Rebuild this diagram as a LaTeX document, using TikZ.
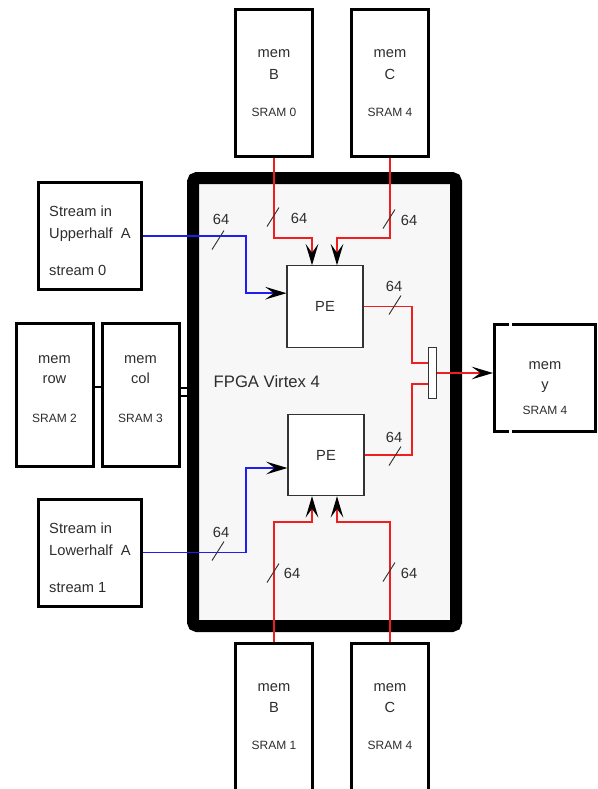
\documentclass[tikz,border=0pt]{standalone}
\usepackage{fontspec}
\setmainfont{Liberation Sans}
\usetikzlibrary{shapes,arrows.meta,positioning}
\definecolor{fpgafill}{RGB}{247,247,247}
\definecolor{txtgray}{RGB}{45,45,45}
\definecolor{busred}{RGB}{240,30,30}
\definecolor{busblue}{RGB}{30,30,240}

\begin{document}
\begin{tikzpicture}[x=0.75pt, y=-0.75pt,
    >={Stealth[length=16pt, width=9.5pt, inset=6.5pt, color=black]},
    membox/.style={rectangle, draw, line width=2.25pt, minimum width=57.75pt, minimum height=110.25pt, align=center, text=txtgray, font=\fontsize{11}{16.5}\selectfont},
    strbox/.style={rectangle, draw, line width=2.25pt, minimum width=77.25pt, minimum height=80.25pt, align=left, text=txtgray, font=\fontsize{11}{16.5}\selectfont},
    pebox/.style={rectangle, draw=black!80, line width=0.8pt, fill=white, minimum width=57pt, minimum height=61pt, text=txtgray, font=\fontsize{11}{13}\selectfont},
    redbus/.style={busred, line width=1.2pt},
    bluebus/.style={busblue, line width=1.2pt},
    slash/.style={black!80, line width=0.7pt},
    lbl/.style={text=txtgray, font=\fontsize{11}{13}\selectfont, inner sep=1pt}]

    \clip (0,0) rectangle (598,789);

    % FPGA
    \node[rectangle, draw, line width=9pt, rounded corners=3pt, fill=fpgafill, minimum width=197.25pt, minimum height=336pt] (fpga) at (324.5,402) {};
    \node[anchor=west, text=txtgray, font=\fontsize{12.5}{15}\selectfont] (fpgalbl) at (209,382) {FPGA Virtex 4};

    % PE
    \node[pebox] (pe1) at (325,306.5) {PE};
    \node[pebox] (pe2) at (326,455) {PE};
    \node[rectangle, draw=black!80, line width=0.8pt, fill=white, minimum width=6pt, minimum height=38pt, inner sep=0pt] (mux) at (432.5,373) {};

    % Memorias
    \node[membox] (memB0) at (274,83) {mem\\B\\[11.5pt]{\small SRAM 0}};
    \node[membox] (memC0) at (390,83) {mem\\C\\[11.5pt]{\small SRAM 4}};
    \node[membox] (memB1) at (274,717) {mem\\[-1pt]B\\[11.5pt]{\small SRAM 1}};
    \node[membox] (memC1) at (390,717) {mem\\[-1pt]C\\[11.5pt]{\small SRAM 4}};
    \node[membox, minimum height=107.25pt] (memrow) at (54.5,395) {mem\\[-2pt]row\\[13pt]{\small SRAM 2}\\[-8pt]{}};
    \node[membox, minimum height=107.25pt, right=4.5pt of memrow] (memcol) {mem\\[-2pt]col\\[13pt]{\small SRAM 3}\\[-8pt]{}};
    \node[membox, minimum width=75.75pt, minimum height=80.25pt] (memy) at (545,378) {{}\\[5pt]mem\\[-1.5pt]y\\[2.5pt]{\small SRAM 4}};
    \fill[white] (509,320) rectangle (511.5,327);
    \fill[white] (509,429) rectangle (511.5,436);

    % Streams
    \node[strbox] (strU) at (90,236) {{}\\[-1pt]Stream in\\Upperhalf\ \ A\\[11.5pt]stream 0};
    \node[strbox] (strL) at (90,552.5) {{}\\[-1pt]Stream in\\Lowerhalf\ \ A\\[11.5pt]stream 1};

    % Enlaces
    \draw[line width=1.5pt] (memrow.east |- 0,387) -- (memcol.west |- 0,387);
    \draw[line width=1pt] (memcol.east |- 0,388) -- (fpga.west |- 0,388);
    \draw[line width=1pt] (memcol.east |- 0,396) -- (fpga.west |- 0,396);

    % Buses
    \draw[redbus, ->] (memB0.south) |- (312,238) -- ([xshift=-9.75pt]pe1.north);
    \draw[redbus, ->] (memC0.south) |- (337,238) -- ([xshift=9pt]pe1.north);
    \draw[redbus, ->] (memB1.north) |- (312,522) -- ([xshift=-10.5pt]pe2.south);
    \draw[redbus, ->] (memC1.north) |- (337,522) -- ([xshift=8.25pt]pe2.south);
    \draw[bluebus, ->] (strU.east) -| (246,265) |- ([yshift=10pt]pe1.west);
    \draw[bluebus, ->] (strL.east) -| (246,500) |- ([yshift=-9.75pt]pe2.west);
    \draw[redbus] (pe1.east) -| (412,335) |- ([yshift=7.5pt]mux.west);
    \draw[redbus] (pe2.east) -| (412,420) |- ([yshift=-8.25pt]mux.west);
    \draw[redbus, ->] (mux.east) -- (mux.east -| memy.west);

    % Anchos
    \draw[slash] (218,240) ++(-6,9.5) -- ++(12,-19);
    \draw[slash] (273,217) ++(-6,9.5) -- ++(12,-19);
    \draw[slash] (389,219) ++(-6,9.5) -- ++(12,-19);
    \draw[slash] (395,305) ++(-6,9.5) -- ++(12,-19);
    \draw[slash] (395,456) ++(-6,9.5) -- ++(12,-19);
    \draw[slash] (218,551) ++(-6,9.5) -- ++(12,-19);
    \draw[slash] (273,573) ++(-6,9.5) -- ++(12,-19);
    \draw[slash] (389,572) ++(-6,9.5) -- ++(12,-19);
    \node[lbl] (w1) at (221,219) {64};
    \node[lbl] (w2) at (299,218) {64};
    \node[lbl] (w3) at (409,220) {64};
    \node[lbl] (w4) at (394,286) {64};
    \node[lbl] (w5) at (394,437) {64};
    \node[lbl] (w6) at (221,532) {64};
    \node[lbl] (w7) at (292,573) {64};
    \node[lbl] (w8) at (409,573) {64};
\end{tikzpicture}
\end{document}
